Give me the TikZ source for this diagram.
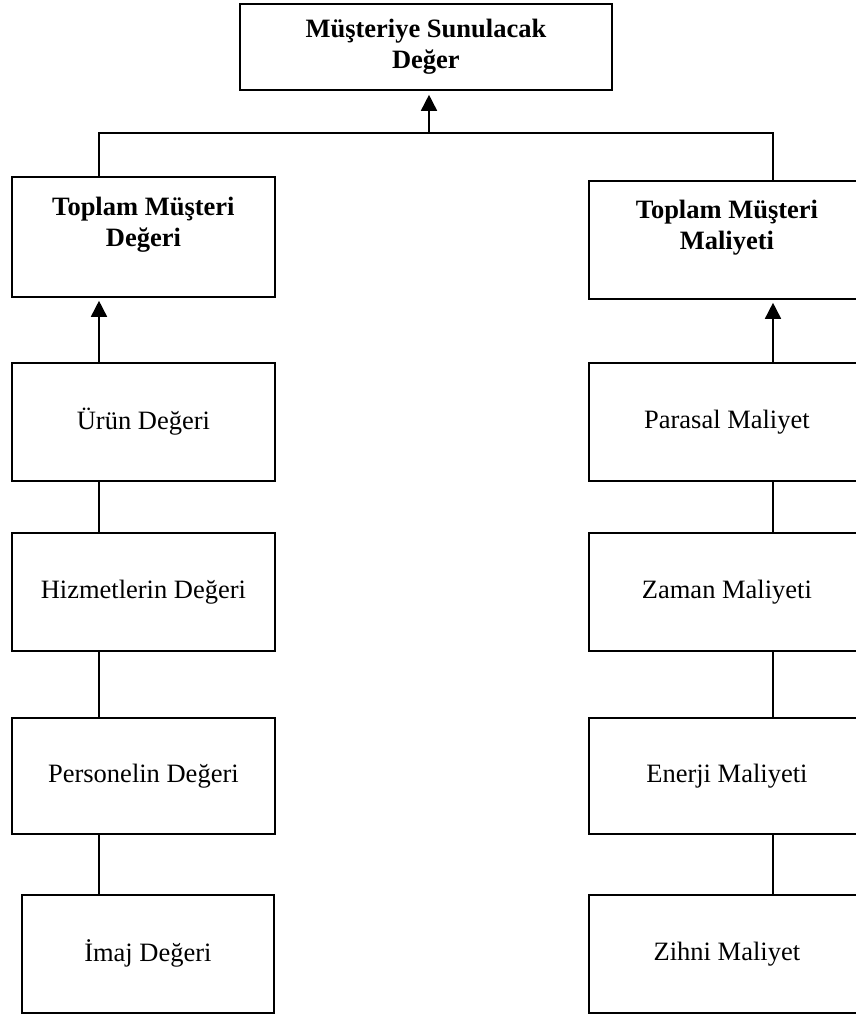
\documentclass[tikz,border=0pt]{standalone}
\usepackage{fontspec}
\setmainfont{Liberation Serif}
\usetikzlibrary{arrows.meta}
\begin{document}
\begin{tikzpicture}[x=1pt,y=-1pt,
  box/.style={draw, line width=1.8pt, anchor=north west, inner sep=0pt,
    align=center, font=\fontsize{26.5}{31}\selectfont},
  head/.style={box, font=\bfseries\fontsize{26.5}{31}\selectfont},
  link/.style={line width=1.6pt},
  up/.style={link, -{Triangle[length=16pt,width=16pt]}, shorten >=3pt}]
\useasboundingbox (0,0) rectangle (856,1014);
\clip (0,0) rectangle (856,1014);

% top value box
\node[head, minimum width=372pt, minimum height=86pt] (sum) at (239,3)
  {Müşteriye Sunulacak\\Değer};

% left column: total customer value and its parts
\node[head, minimum width=263pt, minimum height=120pt] (tmd) at (11,176)
  {Toplam Müşteri\\Değeri\\~};
\node[box, minimum width=263pt, minimum height=118pt] (urun) at (11,362) {Ürün Değeri};
\node[box, minimum width=263pt, minimum height=118pt] (hiz) at (11,532) {Hizmetlerin Değeri};
\node[box, minimum width=263pt, minimum height=116pt] (per) at (11,717) {Personelin Değeri};
\node[box, minimum width=252pt, minimum height=118pt] (imaj) at (21,894) {İmaj Değeri};

% right column: total customer cost and its parts
\node[head, minimum width=276pt, minimum height=118pt] (tmm) at (588,180)
  {Toplam Müşteri\\Maliyeti\\~};
\node[box, minimum width=276pt, minimum height=118pt] (par) at (588,362) {Parasal Maliyet};
\node[box, minimum width=276pt, minimum height=118pt] (zam) at (588,532) {Zaman Maliyeti};
\node[box, minimum width=276pt, minimum height=116pt] (ene) at (588,717) {Enerji Maliyeti};
\node[box, minimum width=276pt, minimum height=118pt] (zih) at (588,894) {Zihni Maliyet};

% connector guide positions
\coordinate (lx) at (99,0);
\coordinate (rx) at (773,0);
\coordinate (mx) at (429,0);
\coordinate (bus) at (0,133);

% branch bus and arrow to the top box
\draw[link] (lx |- tmd.north) -- (lx |- bus) -- (rx |- bus) -- (rx |- tmm.north);
\draw[up, shorten >=4pt] (mx |- bus) -- (mx |- sum.south);

% left chain
\draw[up] (lx |- urun.north) -- (lx |- tmd.south);
\draw[link] (lx |- urun.south) -- (lx |- hiz.north);
\draw[link] (lx |- hiz.south) -- (lx |- per.north);
\draw[link] (lx |- per.south) -- (lx |- imaj.north);

% right chain
\draw[up] (rx |- par.north) -- (rx |- tmm.south);
\draw[link] (rx |- par.south) -- (rx |- zam.north);
\draw[link] (rx |- zam.south) -- (rx |- ene.north);
\draw[link] (rx |- ene.south) -- (rx |- zih.north);
\end{tikzpicture}
\end{document}
